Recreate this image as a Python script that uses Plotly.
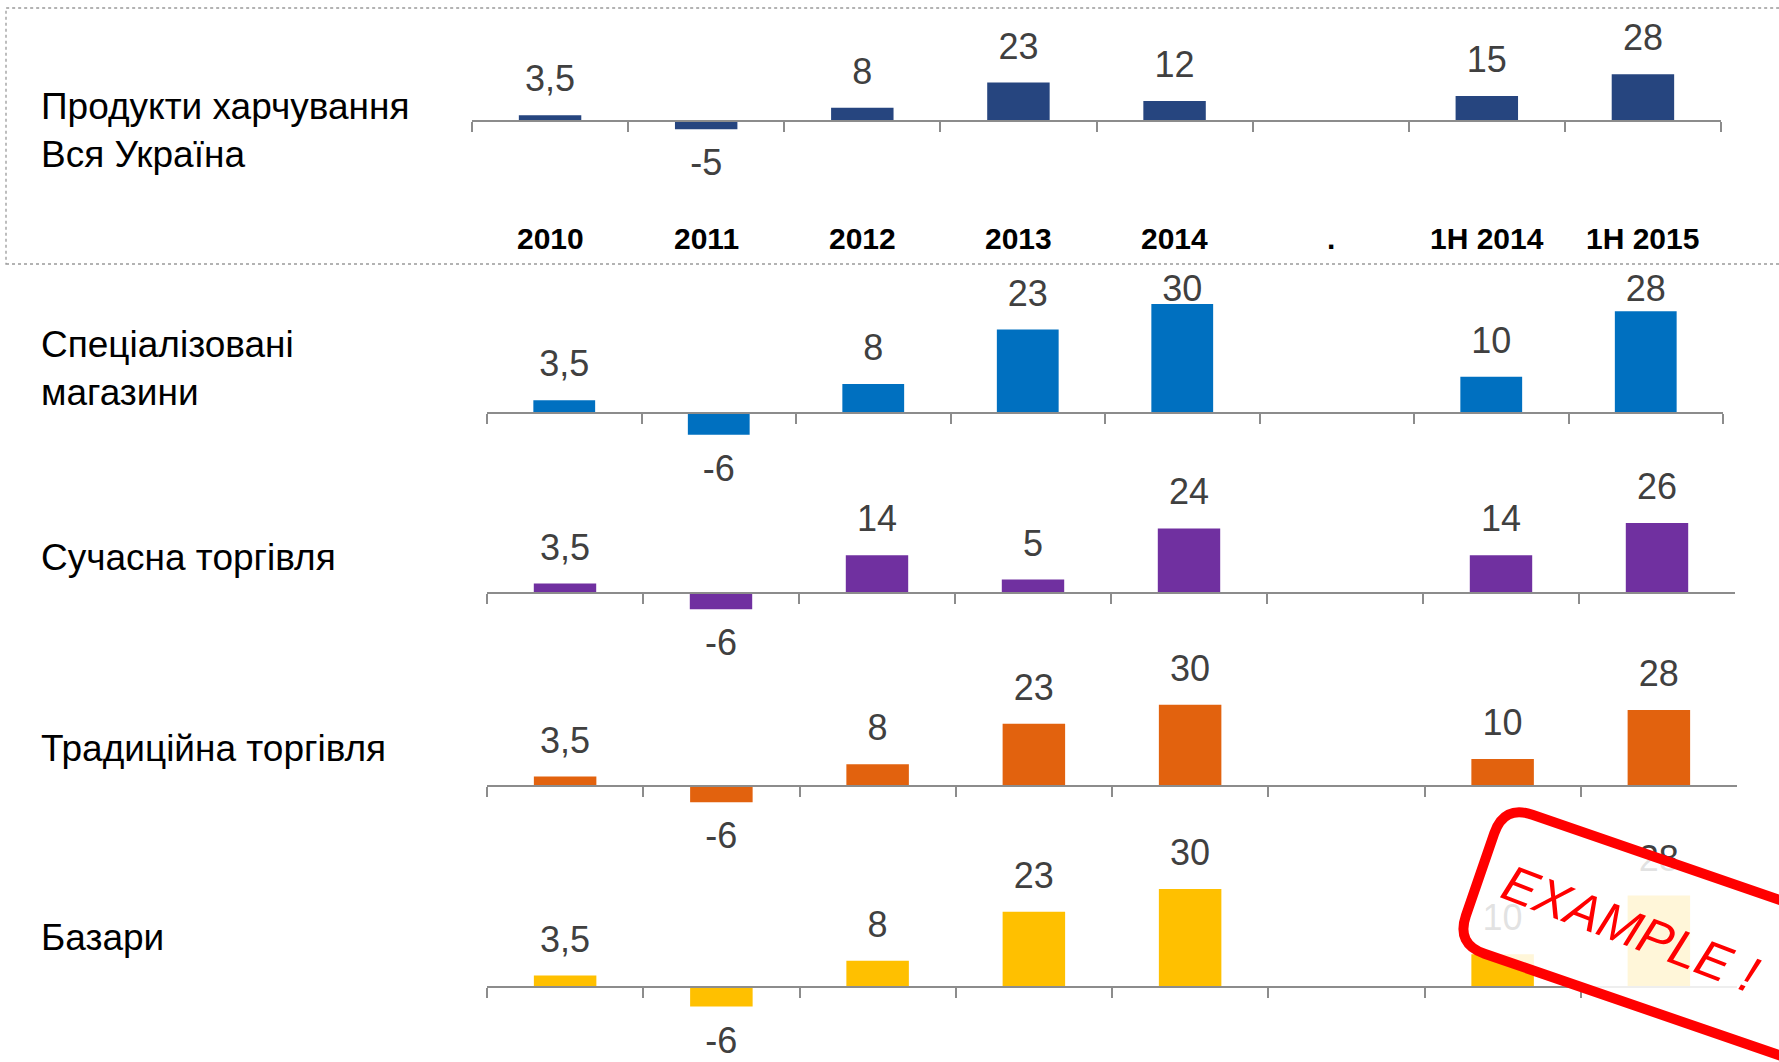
import math
import plotly.graph_objects as go

W, H = 1779, 1062

# ---------------- data ----------------
categories = ["2010", "2011", "2012", "2013", "2014", ".", "1H 2014", "1H 2015"]

row_labels = [
    "Продукти харчування<br>Вся Україна",
    "Спеціалізовані<br>магазини",
    "Сучасна торгівля",
    "Традиційна торгівля",
    "Базари",
]

food_all = [3.5, -5, 8, 23, 12, None, 15, 28]
specialized = [3.5, -6, 8, 23, 30, None, 10, 28]
modern_trade = [3.5, -6, 14, 5, 24, None, 14, 26]
traditional_trade = [3.5, -6, 8, 23, 30, None, 10, 28]
bazaars = [3.5, -6, 8, 23, 30, None, 10, 28]

series = [food_all, specialized, modern_trade, traditional_trade, bazaars]
colors = ["#26457F", "#0070C0", "#7030A0", "#E2620E", "#FFC000"]

# ---------------- layout geometry (pixels) ----------------
panels = [
    dict(base=121, scale=1.67, top=15, bottom=205, x0=472, x1=1721, cap=None, label_y=131),
    dict(base=413, scale=3.63, top=245, bottom=490, x0=487, x1=1723, cap=24.2, label_y=368),
    dict(base=593, scale=2.69, top=455, bottom=670, x0=487, x1=1735, cap=None, label_y=557),
    dict(base=786, scale=2.71, top=635, bottom=860, x0=487, x1=1737, cap=None, label_y=748),
    dict(base=987, scale=3.27, top=820, bottom=1060, x0=487, x1=1737, cap=None, label_y=937),
]


def fmt(v):
    if v is None:
        return ""
    if float(v).is_integer():
        return str(int(v))
    return str(v).replace(".", ",")


fig = go.Figure()
layout_axes = {}
annotations = []
LABEL_FONT = "Liberation Sans, Arial, sans-serif"

for i, (vals, col, p) in enumerate(zip(series, colors, panels), start=1):
    xa = "x" if i == 1 else f"x{i}"
    ya = "y" if i == 1 else f"y{i}"
    fig.add_trace(go.Bar(
        x=categories, y=vals, xaxis=xa, yaxis=ya,
        marker=dict(color=col, line=dict(width=0)),
        showlegend=False, hoverinfo="skip",
    ))
    s = p["scale"]
    ly = []
    for v in vals:
        if v is None:
            ly.append(None)
        elif v >= 0:
            vv = v if p["cap"] is None else min(v, p["cap"])
            ly.append(vv + 33.0 / s)
        else:
            ly.append(v - 37.0 / s)
    fig.add_trace(go.Scatter(
        x=categories, y=ly, xaxis=xa, yaxis=ya, mode="text",
        text=[fmt(v) for v in vals], textposition="middle center",
        textfont=dict(family=LABEL_FONT, size=36, color="#404040"),
        cliponaxis=False, showlegend=False, hoverinfo="skip",
    ))
    xkey = "xaxis" if i == 1 else f"xaxis{i}"
    ykey = "yaxis" if i == 1 else f"yaxis{i}"
    layout_axes[xkey] = dict(
        domain=[p["x0"] / W, p["x1"] / W], type="category",
        categoryorder="array", categoryarray=categories, range=[-0.5, len(categories) - 0.5],
        anchor="free", position=1 - p["base"] / H,
        showline=True, linecolor="#8c8c8c", linewidth=2,
        ticks="outside", tickson="boundaries", ticklen=10, tickwidth=2, tickcolor="#8c8c8c",
        showticklabels=False, showgrid=False, zeroline=False, fixedrange=True,
    )
    layout_axes[ykey] = dict(
        domain=[1 - p["bottom"] / H, 1 - p["top"] / H],
        range=[-(p["bottom"] - p["base"]) / s, (p["base"] - p["top"]) / s],
        visible=False, showgrid=False, zeroline=False, fixedrange=True,
        anchor=xa,
    )
    # row label
    annotations.append(dict(
        x=39 / W, y=1 - p["label_y"] / H, xref="paper", yref="paper",
        xanchor="left", yanchor="middle", align="left", showarrow=False,
        text=row_labels[i - 1], font=dict(family=LABEL_FONT, size=37, color="#000000"),
    ))

# category labels (top panel only) - placed by category index on the first x axis
for idx, c in enumerate(categories):
    annotations.append(dict(
        x=idx, y=1 - 238 / H, xref="x", yref="paper", showarrow=False,
        xanchor="center", yanchor="middle",
        text=f"<b>{c}</b>", font=dict(family=LABEL_FONT, size=30, color="#000000"),
    ))

# stamp text
annotations.append(dict(
    x=1630 / W, y=1 - 928 / H, xref="paper", yref="paper", showarrow=False,
    xanchor="center", yanchor="middle",
    textangle=21, text="EXAMPLE !",
    font=dict(family=LABEL_FONT, size=51, color="#FF0000", style="italic"),
))

# ---------------- shapes ----------------
shapes = [
    dict(type="rect", xref="paper", yref="paper",
         x0=6 / W, x1=1.02, y0=1 - 264 / H, y1=1 - 8 / H,
         line=dict(color="#9a9a9a", width=1.3, dash="dot"), fillcolor="rgba(0,0,0,0)",
         layer="below"),
]

ang = math.radians(19)
u = (math.cos(ang), math.sin(ang))
n = (-math.sin(ang), math.cos(ang))
TL = (1504, 805)
sw, sh, r = 440, 147, 30


def add(p, v, k):
    return (p[0] + v[0] * k, p[1] + v[1] * k)


TR = add(TL, u, sw)
BR = add(TR, n, sh)
BL = add(TL, n, sh)


def P(pt):
    return f"{pt[0] / W:.5f},{1 - pt[1] / H:.5f}"


path = (
    f"M{P(add(TL, u, r))} L{P(add(TR, u, -r))} Q{P(TR)} {P(add(TR, n, r))} "
    f"L{P(add(BR, n, -r))} Q{P(BR)} {P(add(BR, u, -r))} "
    f"L{P(add(BL, u, r))} Q{P(BL)} {P(add(BL, n, -r))} "
    f"L{P(add(TL, n, r))} Q{P(TL)} {P(add(TL, u, r))} Z"
)
shapes.append(dict(type="path", xref="paper", yref="paper", path=path,
                   line=dict(color="#FF0000", width=10),
                   fillcolor="rgba(255,255,255,0.85)", layer="above"))

fig.update_layout(
    width=W, height=H, autosize=False,
    margin=dict(l=0, r=0, t=0, b=0),
    paper_bgcolor="white", plot_bgcolor="rgba(0,0,0,0)",
    bargap=0.6, showlegend=False,
    annotations=annotations, shapes=shapes,
    **layout_axes,
)

fig.write_html(
    "out.html",
    config={"displayModeBar": False},
    post_script="document.body.style.margin='0';document.body.style.overflow='hidden';",
)
